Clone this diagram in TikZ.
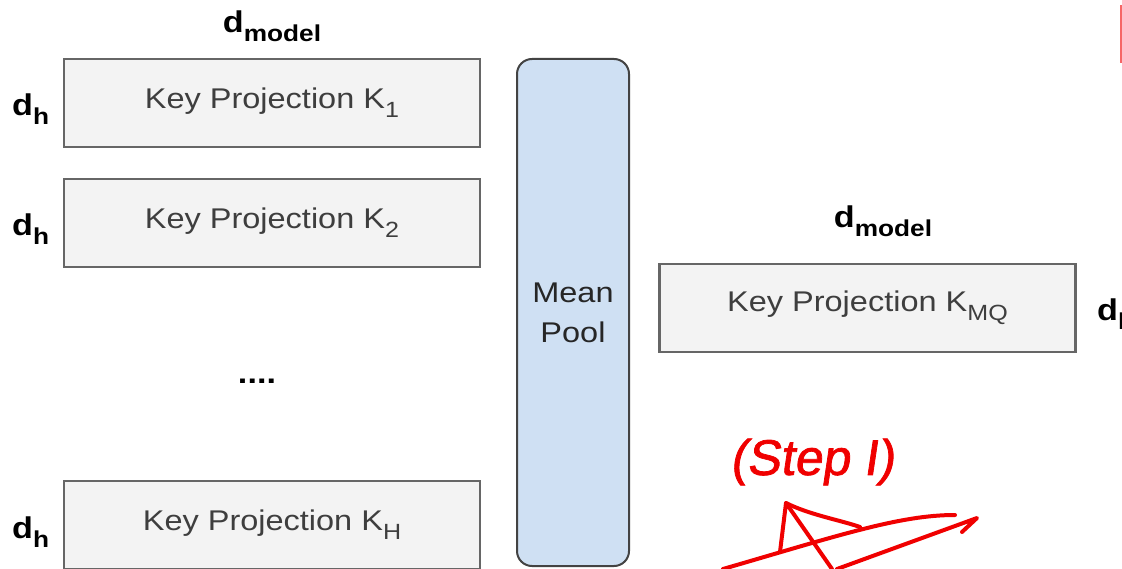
\documentclass[tikz,border=0pt]{standalone}
\usepackage{fontspec}
\setmainfont{Liberation Sans}[FakeStretch=1.14]
\newfontfamily\inkfont{Liberation Sans}[FakeBold=1.5, FakeSlant=0.15]
\usepackage{tikz}
\usetikzlibrary{positioning}
\usepackage{xcolor}
\definecolor{boxfill}{RGB}{243,243,243}
\definecolor{boxedge}{RGB}{102,102,102}
\definecolor{poolfill}{RGB}{207,224,243}
\definecolor{pooledge}{RGB}{67,67,67}
\definecolor{textgray}{RGB}{62,62,62}
\definecolor{inkred}{RGB}{240,0,0}
% lowered index after a letter
\newcommand{\ksub}[1]{\raisebox{-9pt}{\fontsize{22}{22}\selectfont #1}}
\newcommand{\dimsub}[1]{d\raisebox{-9pt}{\fontsize{23}{23}\selectfont\bfseries #1}}
\tikzstyle{projbox} = [rectangle, minimum width=416pt, minimum height=88pt, text centered, draw=boxedge, fill=boxfill, line width=2.5pt, text=textgray, font=\fontsize{28.5}{34}\selectfont]
\tikzstyle{poolbox} = [rectangle, rounded corners=15pt, minimum width=112pt, minimum height=507pt, align=center, draw=pooledge, fill=poolfill, line width=2pt, text=black!85, font=\fontsize{28.5}{40}\selectfont]
\tikzstyle{dimlabel} = [inner sep=0pt, font=\fontsize{30}{36}\selectfont\bfseries]
\tikzstyle{scrawl} = [inkred, line width=4pt, line cap=round, line join=round]

\begin{document}
\begin{tikzpicture}[x=1pt, y=-1pt]
\useasboundingbox (0,0) rectangle (1122,569);
\fill[white] (0,0) rectangle (1122,569);
\clip (0,0) rectangle (1122,569);

% per-head key projections
\node[projbox] (k1) at (272,103) {Key Projection K\ksub{1}};
\node[projbox] (k2) at (272,223) {Key Projection K\ksub{2}};
\node[projbox] (kh) at (272,525) {Key Projection K\ksub{H}};
\node[dimlabel, anchor=base] (dots) at (257,383) {....};

% dimensions
\node[dimlabel, anchor=base] (dm1) at (272,33) {\dimsub{model}};
\node[dimlabel, anchor=base west] (dh1) at (12,116) {\dimsub{h}};
\node[dimlabel, anchor=base west] (dh2) at (12,236) {\dimsub{h}};
\node[dimlabel, anchor=base west] (dh3) at (12,538) {\dimsub{h}};

% pooling
\node[poolbox] (pool) at (573,312.5) {Mean\\Pool};

% shared key projection
\node[projbox] (kmq) at (867.5,308) {Key Projection K\ksub{MQ}};
\node[dimlabel, anchor=base] (dm2) at (883,228) {\dimsub{model}};
\node[dimlabel, anchor=base west] (dh4) at (1097,321) {\dimsub{h}};

% ink notes
\node[inkred, font=\fontsize{50}{54}\selectfont\inkfont] (step) at (812,462) {(Step I)};
\draw[scrawl] (723,569) .. controls (840,535) and (900,515) .. (955,515);
\draw[scrawl] (837,569) -- (977,518) -- (962,532);
\draw[scrawl] (780,552) -- (786,503) -- (832,569);
\draw[scrawl] (786,503) .. controls (810,515) and (840,520) .. (860,527);
\draw[inkred!60, line width=1.5pt] (1121,5) -- (1121,63);
\end{tikzpicture}
\end{document}
